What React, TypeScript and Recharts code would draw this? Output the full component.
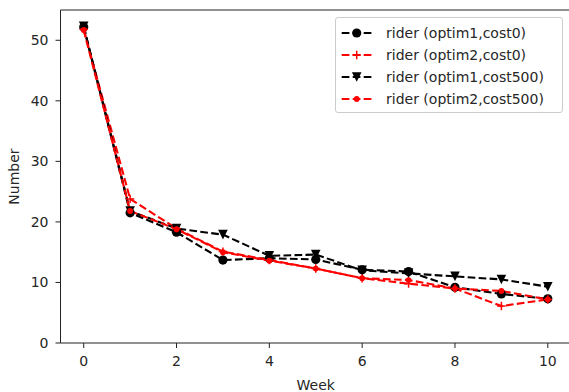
import { LineChart, Line, XAxis, YAxis, Label, ReferenceLine } from "recharts"

const weeks = [0, 1, 2, 3, 4, 5, 6, 7, 8, 9, 10]
const optim1Cost0 = [52.2, 21.5, 18.3, 13.7, 14.0, 13.8, 12.1, 11.8, 9.2, 8.1, 7.3]
const optim2Cost0 = [51.8, 23.8, 18.9, 15.1, 13.7, 12.3, 10.7, 9.8, 9.0, 6.1, 7.2]
const optim1Cost500 = [52.3, 21.8, 18.9, 17.9, 14.4, 14.6, 12.0, 11.5, 11.0, 10.5, 9.3]
const optim2Cost500 = [51.7, 21.8, 18.8, 15.0, 13.6, 12.3, 10.7, 10.4, 9.0, 8.6, 7.2]
const xTicks = [0, 2, 4, 6, 8, 10]
const yTicks = [0, 10, 20, 30, 40, 50]
const yMax = 55

const data = weeks.map((w, i) => ({
    week: w,
    o1c0: optim1Cost0[i],
    o2c0: optim2Cost0[i],
    o1c500: optim1Cost500[i],
    o2c500: optim2Cost500[i],
}))

const FONT = "'DejaVu Sans', sans-serif"
const TXT = "#262626"
const DASH = "7.7 3.3"

type Kind = "circle" | "plus" | "tri" | "point"

function Marker({ kind, cx, cy, color }: { kind: Kind, cx: number, cy: number, color: string }) {
    if (kind === "circle") return <circle cx={cx} cy={cy} r={4.6} fill={color} stroke="none" />
    if (kind === "point") return <circle cx={cx} cy={cy} r={2.9} fill={color} stroke="none" />
    if (kind === "plus") return (
        <path d={`M${cx - 4.2},${cy}H${cx + 4.2}M${cx},${cy - 4.2}V${cy + 4.2}`}
            stroke={color} strokeWidth={1.5} strokeDasharray="none" fill="none" />
    )
    const h = 4.8
    return <path d={`M${cx - h},${cy - h}L${cx + h},${cy - h}L${cx},${cy + h}Z`} fill={color} stroke="none" />
}

const series: { key: string, name: string, color: string, kind: Kind }[] = [
    { key: "o1c0", name: "rider (optim1,cost0)", color: "#000000", kind: "circle" },
    { key: "o2c0", name: "rider (optim2,cost0)", color: "#ff0000", kind: "plus" },
    { key: "o1c500", name: "rider (optim1,cost500)", color: "#000000", kind: "tri" },
    { key: "o2c500", name: "rider (optim2,cost500)", color: "#ff0000", kind: "point" },
]

function LegendBox() {
    return (
        <div style={{
            position: "absolute", left: 335, top: 17,
            width: 228, height: 96, boxSizing: "border-box",
            border: "1px solid #cccccc", borderRadius: 3,
            background: "rgba(255,255,255,0.8)", fontFamily: FONT, fontSize: 14, color: TXT,
        }}>
            {series.map((s, i) => (
                <div key={s.key} style={{ position: "absolute", left: 0, top: 14.7 + i * 22.1 - 11, height: 22, display: "flex", alignItems: "center" }}>
                    <svg width={50} height={22} style={{ display: "block" }}>
                        <line x1={5.7} x2={35.7} y1={11} y2={11} stroke={s.color} strokeWidth={2.1} strokeDasharray={DASH} />
                        <Marker kind={s.kind} cx={20.7} cy={11} color={s.color} />
                    </svg>
                    <span style={{ whiteSpace: "nowrap" }}>{s.name}</span>
                </div>
            ))}
        </div>
    )
}

export default function App() {
    return (
        <div style={{ position: "absolute", left: 0, top: 0, width: 569, height: 392, overflow: "hidden", background: "#fff" }}>
            <LineChart width={572} height={392} data={data}
                margin={{ top: 10, right: 1, left: 0.5, bottom: 0 }}>

                <XAxis dataKey="week" type="number" domain={[-0.5, 10.5]} ticks={xTicks}
                    height={49} tickSize={5} tickMargin={8}
                    stroke="#222" tick={{ fill: TXT, fontSize: 14, fontFamily: FONT }}>
                    <Label value="Week" position="insideBottom" offset={2}
                        style={{ fill: TXT, fontSize: 14, fontFamily: FONT }} />
                </XAxis>

                <YAxis type="number" domain={[0, yMax]} ticks={yTicks} width={60}
                    tickSize={5} tickMargin={7} stroke="#222"
                    tick={{ fill: TXT, fontSize: 14, fontFamily: FONT }}>
                    <Label value="Number" angle={-90} position="insideLeft" offset={14}
                        style={{ fill: TXT, fontSize: 14, fontFamily: FONT, textAnchor: "middle" }} />
                </YAxis>

                <ReferenceLine y={yMax} stroke="#222" strokeWidth={1} />

                {series.map((s) => (
                    <Line key={s.key} type="linear" dataKey={s.key} name={s.name}
                        stroke={s.color} strokeWidth={2.1} strokeDasharray={DASH}
                        isAnimationActive={false}
                        dot={(p: any) => <Marker key={`${s.key}-${p.index}`} kind={s.kind} cx={p.cx} cy={p.cy} color={s.color} />}
                        activeDot={false} />
                ))}
            </LineChart>
            <LegendBox />
        </div>
    )
}
